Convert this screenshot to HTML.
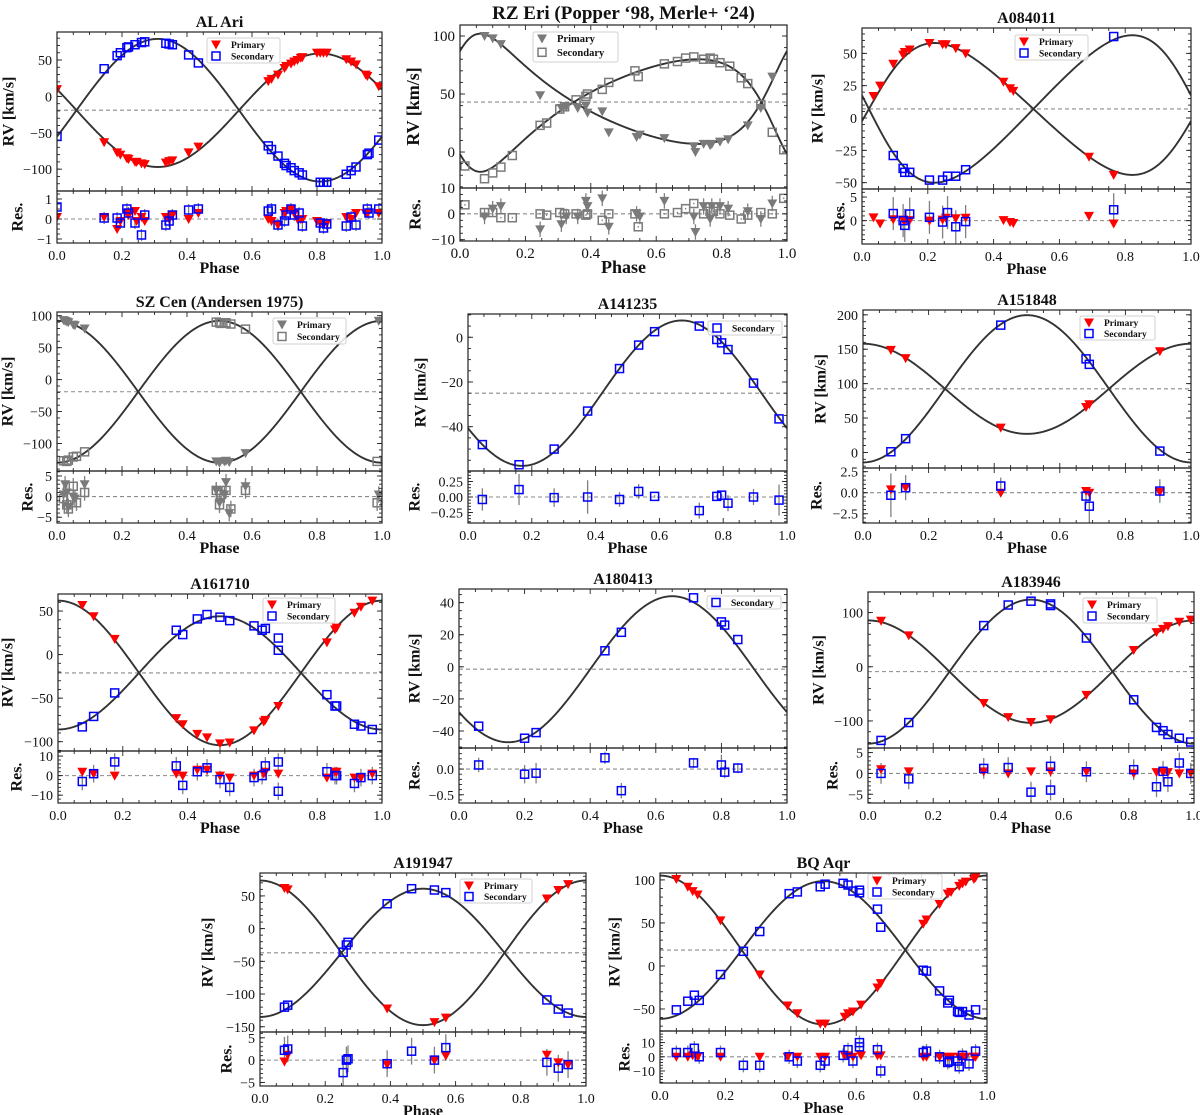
<!DOCTYPE html>
<html><head><meta charset="utf-8"><title>RV curves</title>
<style>
html,body{margin:0;padding:0;background:#fff;}
svg{display:block;font-family:"Liberation Serif","DejaVu Serif",serif;}
</style></head>
<body>
<svg id="fig" width="1200" height="1115" viewBox="0 0 1200 1115" xmlns="http://www.w3.org/2000/svg"></svg>
<script>
// ---------- AL Ari ----------
const alAriPrimPhase=[0.0,0.145,0.185,0.195,0.215,0.22,0.24,0.245,0.26,0.27,0.335,0.345,0.355,0.405,0.435,0.65,0.66,0.68,0.70,0.705,0.72,0.73,0.74,0.75,0.755,0.80,0.81,0.82,0.83,0.89,0.905,0.92,0.95,0.955,0.99];
const alAriPrimRV=[10,-63,-77,-80,-85,-86,-90,-90,-92,-93,-91,-89,-88,-77,-69,21,24,30,39,42,45,48,50,53,54,60,60,60,60,51,48,44,30,28,14];
const alAriPrimRes=[0.1,0.1,-0.5,-0.1,0.3,0.2,0.4,-0.1,0.1,-0.1,0.1,0,0.2,0,0.3,0,-0.1,-0.3,0.3,0.4,0.5,0.3,0,0,0,-0.1,-0.2,-0.2,-0.2,0.1,0,0.3,0.3,0.3,0.3];
const alAriSecPhase=[0.0,0.145,0.185,0.195,0.215,0.22,0.24,0.26,0.27,0.335,0.345,0.355,0.405,0.435,0.65,0.66,0.68,0.70,0.705,0.72,0.73,0.745,0.755,0.81,0.82,0.83,0.89,0.905,0.92,0.955,0.96,0.99];
const alAriSecRV=[-55,38,56,60,67,68,71,74,75,73,72,71,57,46,-68,-73,-82,-92,-95,-98,-102,-105,-108,-118,-118,-118,-107,-102,-97,-80,-78,-60];
const alAriSecRes=[0.6,0.05,0.05,-0.2,0.5,0.3,-0.2,-0.8,0.2,-0.3,-0.1,0.2,0.45,0.5,0.4,0.5,-0.3,-0.1,0.2,0.5,0.2,0.3,-0.35,-0.2,-0.45,-0.25,-0.35,0.1,-0.3,0.5,0.3,0.5];
const alAriYTicks=[50,0,-50,-100];
const alAriResTicks=[1,0,-1];
const alAriModel=[-19,78,98,0,0,0.81]; // gamma,K1,K2,e,omega(deg),T0

// ---------- RZ Eri ----------
const rzEriPrimPhase=[0.075,0.1,0.125,0.245,0.31,0.325,0.36,0.385,0.39,0.435,0.455,0.54,0.55,0.625,0.715,0.72,0.745,0.765,0.77,0.795,0.82,0.88,0.92,0.955];
const rzEriPrimRV=[100,98,93,49,38,39,38,40,34,35,17,13,15,12,5,0,7,6,7,9,11,23,38,65];
const rzEriPrimRes=[-1,2,3,-6,-4,-1,-1,5,3,6,-5,0,-1,5,-1,-7,3,-2,3,3,2,1,-2,4];
const rzEriSecPhase=[0.015,0.075,0.1,0.125,0.16,0.245,0.265,0.305,0.32,0.355,0.385,0.39,0.435,0.455,0.535,0.545,0.625,0.665,0.69,0.715,0.745,0.765,0.775,0.795,0.825,0.86,0.88,0.92,0.955,0.99];
const rzEriSecRV=[-12,-23,-18,-13,-3,23,25,37,39,45,48,50,54,60,70,65,76,78,81,82,80,81,80,77,74,64,59,41,17,2];
const rzEriSecRes=[3.5,0.5,0.5,-1.5,-1.5,0,-0.5,0.5,0,0,-0.5,0,-2.5,0,0,-5,0,0.5,2,4,0,1,1,0,-0.5,-2,-0.5,0.5,0,6];
const rzEriYTicks=[100,50,0];
const rzEriResTicks=[10,0,-10];
const rzEriModel=[43.1,47.5,48.5,0.35,-46.7,0.0];

// ---------- A084011 ----------
const a084011PrimPhase=[0.035,0.055,0.095,0.125,0.13,0.145,0.205,0.245,0.255,0.285,0.315,0.43,0.45,0.46,0.69,0.765];
const a084011PrimRV=[17,25,42,49,51,53,58,57,57,54,50,28,23,21,-30,-44];
const a084011PrimRes=[0.7,-0.6,0.3,0.2,0,0.1,0,0.2,0.6,0.5,0.6,0.1,-0.3,-0.5,1,-0.6];
const a084011SecPhase=[0.095,0.125,0.13,0.145,0.205,0.245,0.26,0.285,0.315,0.765];
const a084011SecRV=[-29,-39,-42,-42,-48,-48,-45,-45,-40,63];
const a084011SecRes=[1.5,0,-1,1.4,0.7,-0.3,1.7,-1.3,-0.2,2.3];
const a084011YTicks=[50,25,0,-25,-50];
const a084011ResTicks=[5,0];
const a084011Model=[7,51,57,0.16,-90,0.021];

// ---------- SZ Cen ----------
const szCenPrimPhase=[0.02,0.025,0.03,0.035,0.05,0.055,0.085,0.49,0.5,0.515,0.52,0.53,0.58,0.99];
const szCenPrimRV=[93,92,91,90,86,85,80,-128,-130,-128,-127,-129,-115,92];
const szCenPrimRes=[0.5,3,1,-2.5,0,-0.5,3,1.5,-1.5,0.5,3.5,-4,2.5,0.5];
const szCenSecPhase=[0.02,0.03,0.035,0.05,0.06,0.085,0.49,0.5,0.505,0.52,0.535,0.58,0.985];
const szCenSecRV=[-127,-128,-126,-121,-120,-113,90,89,88,89,87,79,-128];
const szCenSecRes=[-0.5,-2,-3,2.5,-1.5,1,1.5,-2,0.5,1.5,-3,1.5,-1.5];
const szCenYTicks=[100,50,0,-50,-100];
const szCenResTicks=[5,0,-5];
const szCenModel=[-19,111,111,0,0,0.0];

// ---------- A141235 ----------
const a141235SecPhase=[0.045,0.16,0.27,0.375,0.475,0.535,0.585,0.725,0.78,0.795,0.815,0.895,0.975];
const a141235SecRV=[-48,-57,-50,-33,-14,-3.5,2.5,5,-1,-2.5,-5.5,-20.5,-36.5];
const a141235SecRes=[-0.04,0.12,-0.01,0,-0.04,0.09,0.01,-0.22,0.01,0.03,-0.1,0,-0.05];
const a141235SecErr=[0.18,0.25,0.15,0.27,0.12,0.12,0.02,0.13,0.02,0.02,0.13,0.13,0.25];
const a141235YTicks=[0,-20,-40];
const a141235ResTicks=[0.25,0,-0.25];
const a141235Model=[-25,32.5,32.5,0,0,0.17];

// ---------- A151848 ----------
const a151848PrimPhase=[0.085,0.13,0.42,0.68,0.69,0.905];
const a151848PrimRV=[149,137,36,66,70,147];
const a151848PrimRes=[0.4,0.6,0,0.2,0,0.1];
const a151848SecPhase=[0.085,0.13,0.42,0.68,0.69,0.905];
const a151848SecRV=[1,20,185,136,128,2];
const a151848SecRes=[-0.3,0.6,0.8,-0.4,-1.6,0.2];
const a151848SecErr=[2.6,1.5,1,1,2,1.4];
const a151848YTicks=[200,150,100,50,0];
const a151848ResTicks=[2.5,0,-2.5];
const a151848Model=[92.5,65.5,107,0,0,0.0];

// ---------- A161710 ----------
const a161710PrimPhase=[0.075,0.11,0.175,0.365,0.385,0.43,0.46,0.5,0.53,0.605,0.635,0.64,0.68,0.83,0.855,0.86,0.915,0.935,0.97];
const a161710PrimRV=[57,44,18,-73,-80,-91,-95,-102,-101,-87,-77,-75,-59,14,29,31,48,55,62];
const a161710PrimRes=[2,1,0,1,0,3,3,0,-1,0,1,2,1,-1,2,2,-1,-1,1];
const a161710SecPhase=[0.075,0.11,0.175,0.365,0.385,0.43,0.46,0.5,0.53,0.605,0.63,0.64,0.68,0.68,0.83,0.855,0.86,0.915,0.935,0.97];
const a161710SecRV=[-83,-71,-44,28,23,41,46,43,39,33,28,30,19,5,-46,-59,-59,-80,-82,-86];
const a161710SecRes=[-3,1,7,5,-5,2,4,-2,-6,-1,0,5,7,-8,2,0,0,-4,-1,0];
const a161710YTicks=[50,0,-50,-100];
const a161710ResTicks=[10,0,-10];
const a161710Model=[-21,83,65,0,0,0.0];

// ---------- A180413 ----------
const a180413SecPhase=[0.06,0.2,0.235,0.445,0.495,0.715,0.8,0.81,0.85];
const a180413SecRV=[-37,-44.5,-41,10,21.5,43,28,26,17];
const a180413SecRes=[0.08,-0.1,-0.08,0.22,-0.42,0.12,0.08,-0.06,0.02];
const a180413SecErr=[0.14,0.18,0.2,0.12,0.15,0.1,0.2,0.12,0.1];
const a180413YTicks=[40,20,0,-20,-40];
const a180413ResTicks=[0,-0.5];
const a180413Model=[-1.5,45.5,45.5,0,0,0.15];

// ---------- A183946 ----------
const a183946PrimPhase=[0.04,0.125,0.355,0.43,0.5,0.56,0.67,0.815,0.885,0.905,0.92,0.955,0.99];
const a183946PrimRV=[85,58,-67,-93,-102,-97,-52,31,64,70,75,83,87];
const a183946PrimRes=[1,0.5,0.5,0,0.5,0.5,0.5,0,0.3,0.3,0.3,0,0.1];
const a183946SecPhase=[0.04,0.125,0.355,0.43,0.5,0.56,0.56,0.67,0.815,0.885,0.905,0.92,0.955,0.99];
const a183946SecRV=[-136,-103,76,114,121,116,113,53,-61,-112,-118,-125,-132,-139];
const a183946SecRes=[0,-1.3,1.2,1.4,-4.5,1.7,-4,0.4,0.9,-3.2,0.5,-2,2.5,0];
const a183946YTicks=[100,0,-100];
const a183946ResTicks=[5,0,-5];
const a183946Model=[-9,94.5,133,0,0,0.0];

// ---------- A191947 ----------
const a191947PrimPhase=[0.075,0.085,0.39,0.535,0.57,0.88,0.915,0.945];
const a191947PrimRV=[62,60,-122,-143,-136,46,59,68];
const a191947PrimRes=[-0.3,1.2,-1,0,1,1.2,-0.5,-1];
const a191947SecPhase=[0.075,0.085,0.255,0.265,0.27,0.39,0.465,0.535,0.57,0.88,0.915,0.945];
const a191947SecRV=[-120,-117,-36,-25,-21,38,61,59,55,-109,-123,-129];
const a191947SecRes=[2.2,2.5,-2.8,0,0.3,-0.8,2,0,2.8,-0.5,-1.8,-1];
const a191947YTicks=[50,0,-50,-100,-150];
const a191947ResTicks=[5,0,-5];
const a191947Model=[-37,110.5,98,0,0,0.0];

// ---------- BQ Aqr ----------
const bqAqrPrimPhase=[0.05,0.085,0.1,0.115,0.185,0.305,0.39,0.42,0.49,0.505,0.565,0.575,0.59,0.615,0.665,0.675,0.805,0.815,0.855,0.88,0.89,0.915,0.925,0.935,0.96,0.965];
const bqAqrPrimRV=[101,92,87,83,53,-10,-46,-55,-67,-67,-59,-55,-53,-45,-25,-20,49,54,72,84,86,93,96,98,101,103];
const bqAqrPrimRes=[0,0,1,0,0,0,0,0,0,0,1,1,0,1,1,1,0,0,0,0,0,0,0,0,0,0];
const bqAqrSecPhase=[0.05,0.085,0.105,0.12,0.185,0.255,0.305,0.395,0.42,0.49,0.505,0.56,0.575,0.59,0.61,0.61,0.665,0.675,0.805,0.815,0.855,0.88,0.885,0.91,0.915,0.925,0.945,0.965];
const bqAqrSecRV=[-51,-41,-34,-40,-10,17,40,84,86,92,95,96,94,87,88,85,66,45,-5,-6,-29,-43,-40,-53,-54,-53,-57,-51];
const bqAqrSecRes=[3,3,6,0,3,-6,-6,0,-3,-6,-3,1,5,-3,10,7,5,-10,3,4,0,-4,-3,-3,-7,1,-5,4];
const bqAqrYTicks=[100,50,0,-50];
const bqAqrResTicks=[10,0,-10];
const bqAqrModel=[18.5,86.5,80,0,0,0.0];

const xTicks=[0,0.2,0.4,0.6,0.8,1.0];
const xTickLabels=["0.0","0.2","0.4","0.6","0.8","1.0"];

const panels=[
 {id:'al-ari',title:'AL Ari',L:57,R:382,T:32,M:191,B:243,ylim:[-130,88.5],rlim:[-1.2,1.4],yt:alAriYTicks,ym:10,rt:alAriResTicks,rm:0.25,rdec:0,model:alAriModel,
  pp:alAriPrimPhase,pv:alAriPrimRV,pr:alAriPrimRes,sp:alAriSecPhase,sv:alAriSecRV,sr:alAriSecRes,pe:0.15,se:0.3,leg:[207,38,73,25],yl:48,rl:39,both:true},
 {id:'rz-eri',title:'RZ Eri (Popper \u201898, Merle+ \u201824)',big:true,gray:true,L:460,R:787,T:25,M:188,B:241,ylim:[-31,109.5],rlim:[-10.5,10],yt:rzEriYTicks,ym:10,rt:rzEriResTicks,rm:2.5,rdec:0,model:rzEriModel,
  pp:rzEriPrimPhase,pv:rzEriPrimRV,pr:rzEriPrimRes,sp:rzEriSecPhase,sv:rzEriSecRV,sr:rzEriSecRes,pe:3,se:0.3,leg:[533,32,85,30],yl:47,rl:45,both:true},
 {id:'a084011',title:'A084011',L:862,R:1191,T:28,M:189,B:244,ylim:[-54.9,69.6],rlim:[-4.95,6.7],yt:a084011YTicks,ym:5,rt:a084011ResTicks,rm:1,rdec:0,model:a084011Model,
  pp:a084011PrimPhase,pv:a084011PrimRV,pr:a084011PrimRes,sp:a084011SecPhase,sv:a084011SecRV,sr:a084011SecRes,pe:0.5,se:3.5,leg:[1015,35,73,25],yl:44,rl:22,both:true},
 {id:'sz-cen',title:'SZ Cen (Andersen 1975)',gray:true,L:57,R:382,T:312,M:471,B:523,ylim:[-143,105.8],rlim:[-6.4,6.2],yt:szCenYTicks,ym:10,rt:szCenResTicks,rm:1,rdec:0,model:szCenModel,
  pp:szCenPrimPhase,pv:szCenPrimRV,pr:szCenPrimRes,sp:szCenSecPhase,sv:szCenSecRV,sr:szCenSecRes,pe:2,se:2,leg:[273,318,73,26],yl:49,rl:29,both:true},
 {id:'a141235',title:'A141235',L:468,R:787,T:314,M:471,B:523,ylim:[-59.8,10.4],rlim:[-0.42,0.42],yt:a141235YTicks,ym:5,rt:a141235ResTicks,rm:0.05,rdec:2,model:a141235Model,
  pp:[],pv:[],pr:[],sp:a141235SecPhase,sv:a141235SecRV,sr:a141235SecRes,pe:0,se:a141235SecErr,leg:[708,321,74,14],yl:47,rl:53,both:false},
 {id:'a151848',title:'A151848',L:863,R:1191,T:310,M:468,B:523,ylim:[-22.6,207],rlim:[-3.6,2.94],yt:a151848YTicks,ym:10,rt:a151848ResTicks,rm:0.5,rdec:1,model:a151848Model,
  pp:a151848PrimPhase,pv:a151848PrimRV,pr:a151848PrimRes,sp:a151848SecPhase,sv:a151848SecRV,sr:a151848SecRes,pe:0.3,se:a151848SecErr,leg:[1080,316,75,24],yl:42,rl:46,both:true},
 {id:'a161710',title:'A161710',L:58,R:382,T:594,M:751,B:803,ylim:[-110.7,69.6],rlim:[-14,12.6],yt:a161710YTicks,ym:10,rt:a161710ResTicks,rm:2,rdec:0,model:a161710Model,
  pp:a161710PrimPhase,pv:a161710PrimRV,pr:a161710PrimRes,sp:a161710SecPhase,sv:a161710SecRV,sr:a161710SecRes,pe:1.5,se:4.5,leg:[263,598,72,25],yl:50,rl:41,both:true},
 {id:'a180413',title:'A180413',L:459,R:787,T:589,M:748,B:803,ylim:[-50.6,48.5],rlim:[-0.66,0.41],yt:a180413YTicks,ym:5,rt:a180413ResTicks,rm:0.1,rdec:1,model:a180413Model,
  pp:[],pv:[],pr:[],sp:a180413SecPhase,sv:a180413SecRV,sr:a180413SecRes,pe:0,se:a180413SecErr,leg:[707,596,74,13],yl:44,rl:44,both:false},
 {id:'a183946',title:'A183946',L:868,R:1194,T:592,M:748,B:803,ylim:[-150,138],rlim:[-7.1,6.1],yt:a183946YTicks,ym:20,rt:a183946ResTicks,rm:1,rdec:0,model:a183946Model,
  pp:a183946PrimPhase,pv:a183946PrimRV,pr:a183946PrimRes,sp:a183946SecPhase,sv:a183946SecRV,sr:a183946SecRes,pe:0.8,se:2.5,leg:[1083,598,74,25],yl:49,rl:35,both:true},
 {id:'a191947',title:'A191947',L:260,R:586,T:873,M:1032,B:1086,ylim:[-158,85],rlim:[-5.8,6.3],yt:a191947YTicks,ym:10,rt:a191947ResTicks,rm:1,rdec:0,model:a191947Model,
  pp:a191947PrimPhase,pv:a191947PrimRV,pr:a191947PrimRes,sp:a191947SecPhase,sv:a191947SecRV,sr:a191947SecRes,pe:1,se:3,leg:[460,879,72,24],yl:52,rl:33,both:true},
 {id:'bq-aqr',title:'BQ Aqr',L:660,R:987,T:873,M:1031,B:1083,ylim:[-75.6,108],rlim:[-18.5,18.2],yt:bqAqrYTicks,ym:10,rt:bqAqrResTicks,rm:2,rdec:0,model:bqAqrModel,
  pp:bqAqrPrimPhase,pv:bqAqrPrimRV,pr:bqAqrPrimRes,sp:bqAqrSecPhase,sv:bqAqrSecRV,sr:bqAqrSecRes,pe:1.5,se:5,leg:[868,874,74,25],yl:45,rl:35,both:true}
];

const NS='http://www.w3.org/2000/svg';
const svg=document.getElementById('fig');
function mk(parent,tag,attrs,text){
  const e=document.createElementNS(NS,tag);
  for(const k in attrs) e.setAttribute(k,attrs[k]);
  if(text!==undefined) e.textContent=text;
  parent.appendChild(e);
  return e;
}
function fmt(v,dec){
  const s=Math.abs(v).toFixed(dec);
  return (v<0?'\u2212':'')+s;
}
function rvModel(phi,m,comp){
  const [g,K1,K2,e,wdeg,T0]=m;
  const w=wdeg*Math.PI/180;
  let M=2*Math.PI*(phi-T0);
  let E=M;
  for(let i=0;i<40;i++) E=M+e*Math.sin(E);
  const nu=2*Math.atan2(Math.sqrt(1+e)*Math.sin(E/2),Math.sqrt(1-e)*Math.cos(E/2));
  const v=Math.cos(nu+w)+e*Math.cos(w);
  return comp===1?g+K1*v:g-K2*v;
}
function errOf(e,i){return Array.isArray(e)?e[i]:e;}

panels.forEach((p,pi)=>{
  const grp=mk(svg,'g',{});
  
  
  const fs=p.big?15:14, lfs=p.big?17:16;
  const xs=v=>p.L+(p.R-p.L)*v;
  const ys=v=>p.M-(p.M-p.T)*(v-p.ylim[0])/(p.ylim[1]-p.ylim[0]);
  const rs=v=>p.B-(p.B-p.M)*(v-p.rlim[0])/(p.rlim[1]-p.rlim[0]);
  const gray=p.gray;
  const triCol=gray?'#7a7a7a':'#ff0000';
  const sqCol=gray?'#7a7a7a':'#0000ff';
  const defs=mk(grp,'defs',{});
  const c1=mk(defs,'clipPath',{id:'cm'+pi});
  mk(c1,'rect',{x:p.L,y:p.T,width:p.R-p.L,height:p.M-p.T});
  const c2=mk(defs,'clipPath',{id:'cr'+pi});
  mk(c2,'rect',{x:p.L,y:p.M,width:p.R-p.L,height:p.B-p.M});
  const t=mk(grp,'text',{x:(p.L+p.R)/2,y:p.T-(p.big?6:5),'text-anchor':'middle','font-size':p.big?19:16,'font-weight':'bold',fill:'#111'},p.title);
  
  
  const gl=mk(grp,'line',{x1:p.L,x2:p.R,y1:ys(p.model[0]),y2:ys(p.model[0]),stroke:'#8a8a8a','stroke-width':1.1,'stroke-dasharray':'4,3'});
  
  
  const zl=mk(grp,'line',{x1:p.L,x2:p.R,y1:rs(0),y2:rs(0),stroke:'#8a8a8a','stroke-width':1.1,'stroke-dasharray':'4,3'});
  
  
  const comps=p.both?[1,2]:[2];
  comps.forEach(c=>{
    let d='';
    for(let i=0;i<=400;i++){const ph=i/400;d+=(i?'L':'M')+xs(ph).toFixed(2)+','+ys(rvModel(ph,p.model,c)).toFixed(2);}
    const path=mk(grp,'path',{d:d,fill:'none',stroke:'#333','stroke-width':1.9,'clip-path':'url(#cm'+pi+')'});
    
    
  });
  function tri(parent,x,y){
    const m=mk(parent,'polygon',{points:`${x-5},${y-4} ${x+5},${y-4} ${x},${y+5}`,fill:triCol});
    
    
  }
  function sq(parent,x,y){
    const m=mk(parent,'rect',{x:x-4,y:y-4,width:8,height:8,fill:'none',stroke:sqCol,'stroke-width':1.5});
    
    
  }
  const mg=mk(grp,'g',{'clip-path':'url(#cm'+pi+')'});
  p.pp.forEach((ph,i)=>tri(mg,xs(ph),ys(p.pv[i])));
  p.sp.forEach((ph,i)=>sq(mg,xs(ph),ys(p.sv[i])));
  const rg=mk(grp,'g',{'clip-path':'url(#cr'+pi+')'});
  p.pp.forEach((ph,i)=>{const e=errOf(p.pe,i);if(e>0){const l=mk(rg,'line',{x1:xs(ph),x2:xs(ph),y1:rs(p.pr[i]-e),y2:rs(p.pr[i]+e),stroke:'#808080','stroke-width':1.3});}});
  p.sp.forEach((ph,i)=>{const e=errOf(p.se,i);if(e>0){const l=mk(rg,'line',{x1:xs(ph),x2:xs(ph),y1:rs(p.sr[i]-e),y2:rs(p.sr[i]+e),stroke:'#808080','stroke-width':1.3});}});
  p.pp.forEach((ph,i)=>tri(rg,xs(ph),rs(p.pr[i])));
  p.sp.forEach((ph,i)=>sq(rg,xs(ph),rs(p.sr[i])));
  const f1=mk(grp,'rect',{x:p.L,y:p.T,width:p.R-p.L,height:p.M-p.T,fill:'none',stroke:'#222','stroke-width':1.2});
  
  
  const f2=mk(grp,'rect',{x:p.L,y:p.M,width:p.R-p.L,height:p.B-p.M,fill:'none',stroke:'#222','stroke-width':1.2});
  
  
  const tk=mk(grp,'g',{stroke:'#222','stroke-width':0.9});
  function xt(top,bot){
    for(let k=0;k<=20;k++){
      const v=k*0.05; const maj=(k%4===0); const len=maj?5:3; const x=xs(v);
      mk(tk,'line',{x1:x,x2:x,y1:top,y2:top+len}); mk(tk,'line',{x1:x,x2:x,y1:bot,y2:bot-len});
    }
  }
  xt(p.T,p.M); xt(p.M,p.B);
  function yt(lim,step,majors,sc){
    const start=Math.ceil(lim[0]/step)*step;
    for(let v=start;v<=lim[1]+1e-9;v+=step){
      const y=sc(v);
      mk(tk,'line',{x1:p.L,x2:p.L+3,y1:y,y2:y}); mk(tk,'line',{x1:p.R,x2:p.R-3,y1:y,y2:y});
    }
    majors.forEach(v=>{const y=sc(v);mk(tk,'line',{x1:p.L,x2:p.L+5,y1:y,y2:y});mk(tk,'line',{x1:p.R,x2:p.R-5,y1:y,y2:y});});
  }
  yt(p.ylim,p.ym,p.yt,ys); yt(p.rlim,p.rm,p.rt,rs);
  p.yt.forEach(v=>{const l=mk(grp,'text',{x:p.L-5,y:ys(v)+5,'text-anchor':'end','font-size':fs,fill:'#111'},fmt(v,0));});
  p.rt.forEach(v=>{const l=mk(grp,'text',{x:p.L-5,y:rs(v)+5,'text-anchor':'end','font-size':fs,fill:'#111'},fmt(v,p.rdec));});
  xTicks.forEach((v,i)=>{const l=mk(grp,'text',{x:xs(v),y:p.B+17,'text-anchor':'middle','font-size':fs,fill:'#111'},xTickLabels[i]);});
  const xl=mk(grp,'text',{x:(p.L+p.R)/2,y:p.B+(p.big?32:30),'text-anchor':'middle','font-size':p.big?18:lfs,'font-weight':'bold',fill:'#111'},'Phase');
  
  
  const cy=(p.T+p.M)/2, cx=p.L-p.yl;
  const yl=mk(grp,'text',{x:cx,y:cy,'text-anchor':'middle','dominant-baseline':'central','font-size':p.big?18:lfs,'font-weight':'bold',fill:'#111',transform:`rotate(-90 ${cx} ${cy})`},'RV [km/s]');
  
  
  const ry=(p.M+p.B)/2, rx=p.L-p.rl;
  const rl=mk(grp,'text',{x:rx,y:ry,'text-anchor':'middle','dominant-baseline':'central','font-size':p.big?17:lfs,'font-weight':'bold',fill:'#111',transform:`rotate(-90 ${rx} ${ry})`},'Res.');
  
  
  const [lx,ly,lw,lh]=p.leg;
  const lg=mk(grp,'g',{});
  
  
  mk(lg,'rect',{x:lx,y:ly,width:lw,height:lh,rx:2,fill:'#fff','fill-opacity':0.85,stroke:'#d0d0d0','stroke-width':1});
  const entries=[];
  if(p.pp.length) entries.push('Primary');
  entries.push('Secondary');
  const lfsz=p.big?10.5:9.5;
  entries.forEach((name,i)=>{
    const yy=entries.length===1?ly+lh/2:ly+6.5+i*11.5*(lh/25);
    if(name==='Primary') tri(lg,lx+9,yy); else sq(lg,lx+9,yy);
    const tx=mk(lg,'text',{x:lx+24,y:yy+3.5,'font-size':lfsz,'font-weight':'bold',fill:'#111'},name);
    
    
  });
});
</script>
</body></html>
